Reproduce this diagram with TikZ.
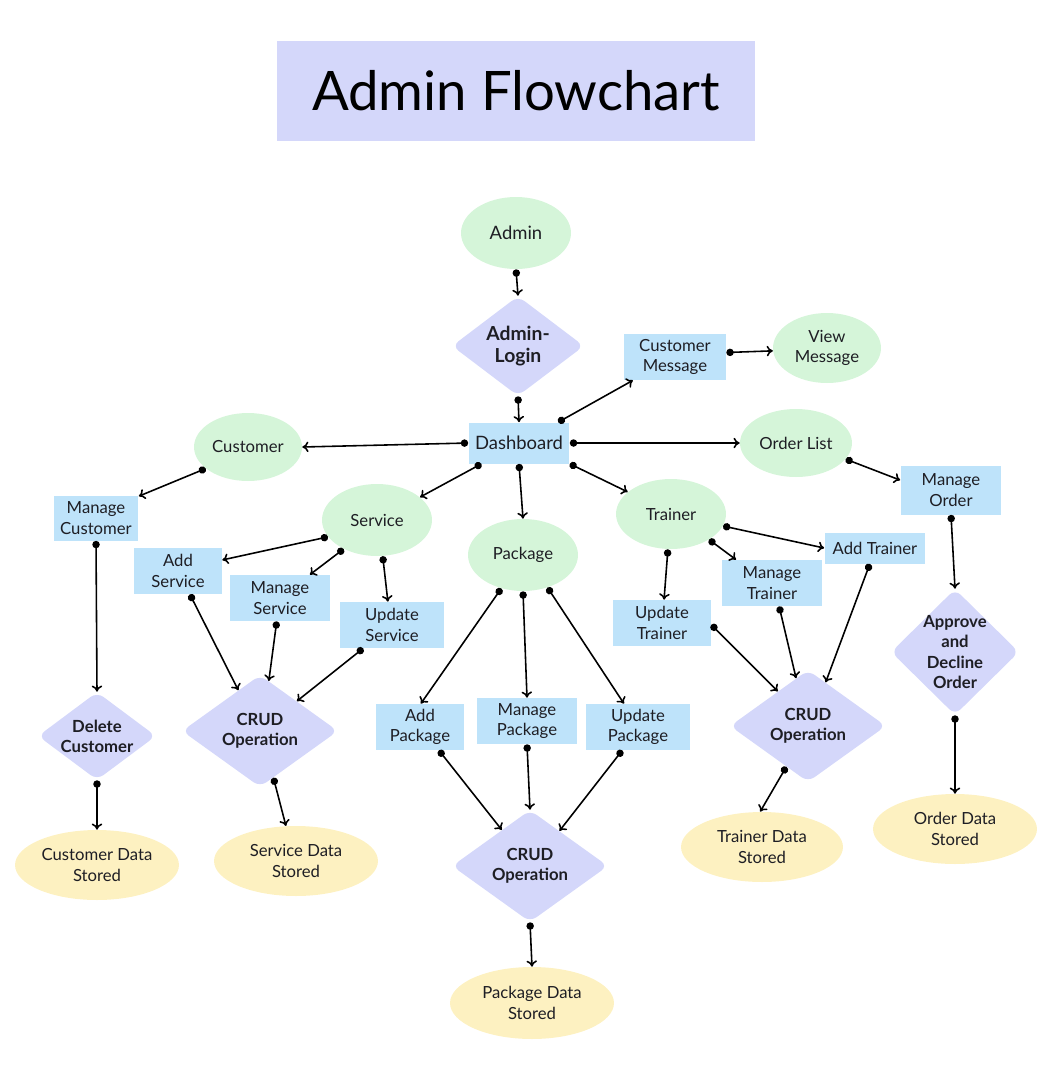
\documentclass[tikz,border=0pt]{standalone}
\usepackage{fontspec}
\setmainfont{Lato}
\usetikzlibrary{shapes.geometric,arrows.meta}
\definecolor{grn}{HTML}{D5F5D9}
\definecolor{ylw}{HTML}{FDF1C1}
\definecolor{blu}{HTML}{BEE3FA}
\definecolor{lav}{HTML}{D4D7FA}
\definecolor{ink}{HTML}{1E1E24}
\begin{document}
\begin{tikzpicture}[x=0.02cm,y=-0.02cm,
  every node/.style={text=ink, font=\fontsize{9.5}{11.5}\selectfont, align=center, inner sep=0pt},
  gell/.style={ellipse, fill=grn, minimum width=2.2cm, minimum height=1.44cm},
  yell/.style={ellipse, fill=ylw, minimum width=3.28cm, minimum height=1.4cm},
  rbox/.style={rectangle, fill=blu, minimum height=0.92cm},
  dia/.style={diamond, fill=lav, rounded corners=4.5pt, minimum width=3.12cm, minimum height=2.24cm},
  dlab/.style={font=\bfseries\fontsize{9.5}{11.5}\selectfont, align=center, text=ink},
  conn/.style={line width=0.9pt, draw=black, {Circle[length=4.2pt]}-{To[length=3.5pt,width=6pt]}}
]
\useasboundingbox (0,0) rectangle (1052,1080);

% title
\node[fill=lav, minimum width=9.56cm, minimum height=2.0cm, font=\fontsize{31}{37}\selectfont, text=black] (title) at (516,91) {Admin Flowchart};

% top
\node[gell] (admin) at (516,233) {\fontsize{10.5}{12}\selectfont Admin};
\node[dia, minimum width=2.64cm, minimum height=2.0cm,
      label={[dlab, font=\bfseries\fontsize{11}{13}\selectfont]center:{Admin-\\Login}}] (login) at (518,346) {};
\node[rbox, minimum width=2.02cm, minimum height=0.82cm, font=\fontsize{10.5}{12}\selectfont] (dash) at (519,443) {Dashboard};
\node[rbox, minimum width=2.04cm] (cm) at (675,357) {Customer\\Message};
\node[gell, minimum width=2.16cm, minimum height=1.4cm] (vm) at (827,348) {View\\Message};
\node[gell, minimum width=2.16cm, minimum height=1.36cm] (cust) at (248,447) {Customer};
\node[gell, minimum width=2.24cm, minimum height=1.36cm] (ol) at (796,443) {Order List};
\node[rbox, minimum width=2.02cm, minimum height=0.98cm] (mo) at (951,490) {Manage\\Order};

% second level
\node[gell] (svc) at (377,520) {Service};
\node[gell] (pkg) at (523,555) {Package};
\node[gell, minimum height=1.4cm] (tr) at (671,514) {Trainer};

% customer branch
\node[rbox, minimum width=1.7cm, minimum height=0.9cm] (mc) at (96,518) {Manage\\Customer};
\node[dia, minimum width=2.36cm, minimum height=1.76cm,
      label={[dlab]center:{Delete\\Customer}}] (dc) at (97,736) {};
\node[yell] (cds) at (97,865) {Customer Data\\Stored};

% service branch
\node[rbox, minimum width=1.76cm] (as) at (178,571) {Add\\Service};
\node[rbox, minimum width=2.02cm] (ms) at (280,598) {Manage\\Service};
\node[rbox, minimum width=2.08cm] (us) at (392,625) {Update\\Service};
\node[dia, label={[dlab]center:{CRUD\\Operation}}] (c1) at (260,731) {};
\node[yell] (sds) at (296,861) {Service Data\\Stored};

% package branch
\node[rbox, minimum width=1.76cm] (ap) at (420,727) {Add\\Package};
\node[rbox, minimum width=2.02cm] (mp) at (527,721) {Manage\\Package};
\node[rbox, minimum width=2.08cm] (up) at (638,727) {Update\\Package};
\node[dia, label={[dlab]center:{CRUD\\Operation}}] (c2) at (530,866) {};
\node[yell, minimum height=1.44cm] (pds) at (532,1003) {Package Data\\Stored};

% trainer branch
\node[rbox, minimum width=1.96cm] (ut) at (662,623) {Update\\Trainer};
\node[rbox, minimum width=2.0cm] (mt) at (772,583) {Manage\\Trainer};
\node[rbox, minimum width=2.02cm, minimum height=0.62cm] (at) at (875,548) {Add Trainer};
\node[dia, label={[dlab]center:{CRUD\\Operation}}] (c3) at (808,726) {};
\node[yell, minimum width=3.24cm] (tds) at (762,847) {Trainer Data\\Stored};

% order branch
\node[dia, minimum width=2.56cm, minimum height=2.52cm,
      label={[dlab]center:{Approve\\and\\Decline\\Order}}] (apr) at (955,652) {};
\node[yell] (ods) at (955,829) {Order Data\\Stored};

% connectors
\draw[conn] (admin.south) -- (login.north);
\draw[conn] (login.south) -- (dash.north);
\draw[conn] (dash.west) -- (cust.east);
\draw[conn] (dash.28) -- (cm.209);
\draw[conn] (cm.5) -- (vm.183);
\draw[conn] (dash.east) -- (ol.west);
\draw[conn] (ol.342) -- (mo.169);
\draw[conn] (dash.209) -- (svc.28);
\draw[conn] (dash.south) -- (pkg.north);
\draw[conn] (dash.south east) -- (tr.153);

\draw[conn] (cust.207) -- (mc.27);
\draw[conn] (mc.south) -- (dc.north);
\draw[conn] (dc.south) -- (cds.north);

\draw[conn] (svc.199) -- (as.14);
\draw[conn] (svc.221) -- (ms.38);
\draw[conn] (svc.279) -- (us.100);
\draw[conn] (as.297) -- (c1.118);
\draw[conn] (ms.262) -- (c1.80);
\draw[conn] (us.219) -- (c1.39);
\draw[conn] (c1.286) -- (sds.106);

\draw[conn] (pkg.237) -- (ap.88);
\draw[conn] (pkg.south) -- (mp.north);
\draw[conn] (pkg.307) -- (up.121);
\draw[conn] (ap.309) -- (c2.128);
\draw[conn] (mp.south) -- (c2.north);
\draw[conn] (up.236) -- (c2.50);
\draw[conn] (c2.south) -- (pds.north);

\draw[conn] (tr.265) -- (ut.85);
\draw[conn] (tr.326) -- (mt.147);
\draw[conn] (tr.347) -- (at.west);
\draw[conn] (ut.358) -- (c3.131);
\draw[conn] (mt.287) -- (c3.104);
\draw[conn] (at.252) -- (c3.68);
\draw[conn] (c3.242) -- (tds.93);

\draw[conn] (mo.south) -- (apr.north);
\draw[conn] (apr.south) -- (ods.north);
\end{tikzpicture}
\end{document}
